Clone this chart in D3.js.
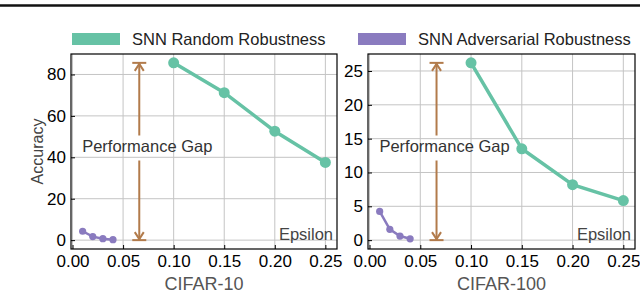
<!DOCTYPE html>
<html>
<head>
<meta charset="utf-8">
<script src="https://cdn.jsdelivr.net/npm/d3@7"></script>
<style>
  body { margin: 0; background: #fff; }
  text { font-family: 'Liberation Sans', Arial, sans-serif; }
</style>
</head>
<body>
<svg id="chart" width="640" height="294"></svg>
<script>
// values
const epsRandom = [0.10, 0.15, 0.20, 0.25]
const epsAdv = [0.01, 0.02, 0.03, 0.04]
const cifar10Random = [85.6, 71.2, 52.6, 37.5]
const cifar10Adv = [4.3, 1.7, 0.7, 0.2]
const cifar100Random = [26.2, 13.5, 8.2, 5.85]
const cifar100Adv = [4.25, 1.6, 0.6, 0.2]
const xTicks = [0, 0.05, 0.10, 0.15, 0.20, 0.25]
const cifar10YTicks = [0, 20, 40, 60, 80]
const cifar100YTicks = [0, 5, 10, 15, 20, 25]
const gapEps = 0.066
const seriesNames = ['SNN Random Robustness', 'SNN Adversarial Robustness']
const panelNames = ['CIFAR-10', 'CIFAR-100']

const green = '#66c2a5'
const purple = '#8a7bbf'
const brown = '#b27b4b'

const svg = d3.select('#chart')

// cut-off rule from the figure above
svg.append('line')
  .attr('x1', 0).attr('x2', 640)
  .attr('y1', 5.5).attr('y2', 5.5)
  .attr('stroke', '#111')
  .attr('stroke-width', 2.5)

// legend
const legend = [
  { name: seriesNames[0], color: green, x: 72 },
  { name: seriesNames[1], color: purple, x: 358 }
]
legend.forEach(function (d) {
  svg.append('rect')
    .attr('x', d.x).attr('y', 33)
    .attr('width', 48).attr('height', 12)
    .attr('fill', d.color)
  svg.append('text')
    .attr('x', d.x + 60).attr('y', 45)
    .attr('font-size', 16.5)
    .attr('fill', '#222')
    .text(d.name)
})

function drawPanel (opts) {
  const left = opts.left
  const right = opts.right
  const top = 54
  const bottom = 249
  const yMax = d3.max(opts.random)
  const pad = yMax * 0.05

  const x = d3.scaleLinear().domain([-0.0015, 0.2615]).range([left, right])
  const y = d3.scaleLinear().domain([-pad, yMax + pad]).range([bottom, top])

  const g = svg.append('g')

  // grid
  g.append('g').selectAll('line')
    .data(xTicks)
    .enter().append('line')
    .attr('x1', d => x(d)).attr('x2', d => x(d))
    .attr('y1', top).attr('y2', bottom)
    .attr('stroke', '#c4c4c4')
  g.append('g').selectAll('line')
    .data(opts.yTicks)
    .enter().append('line')
    .attr('x1', left).attr('x2', right)
    .attr('y1', d => y(d)).attr('y2', d => y(d))
    .attr('stroke', '#c4c4c4')

  // axes, ticks pointing in
  const xAxis = g.append('g')
    .attr('transform', 'translate(0,' + bottom + ')')
    .call(d3.axisBottom(x).tickValues(xTicks).tickFormat(d3.format('.2f')).tickSize(-4).tickPadding(6))
  const yAxis = g.append('g')
    .attr('transform', 'translate(' + left + ',0)')
    .call(d3.axisLeft(y).tickValues(opts.yTicks).tickFormat(d3.format('d')).tickSize(-4).tickPadding(5))
  ;[xAxis, yAxis].forEach(function (a) {
    a.select('.domain').remove()
    a.selectAll('.tick line').attr('stroke', '#000')
    a.selectAll('.tick text')
      .attr('font-size', 17)
      .attr('font-family', "'Liberation Sans', Arial, sans-serif")
      .attr('fill', '#000')
  })

  // frame
  g.append('rect')
    .attr('x', left).attr('y', top)
    .attr('width', right - left).attr('height', bottom - top)
    .attr('fill', 'none')
    .attr('stroke', '#000')
    .attr('stroke-width', 1.2)

  // performance gap arrow
  const ax = x(gapEps)
  const aTop = y(yMax)
  const aBot = y(0)
  const mid = (aTop + aBot) / 2
  const arrow = g.append('g')
    .attr('stroke', brown)
    .attr('stroke-width', 2)
    .attr('fill', 'none')
  arrow.append('line')
    .attr('x1', ax).attr('x2', ax)
    .attr('y1', aTop).attr('y2', mid - 16)
  arrow.append('line')
    .attr('x1', ax).attr('x2', ax)
    .attr('y1', mid + 9).attr('y2', aBot)
  arrow.append('line')
    .attr('x1', ax - 7).attr('x2', ax + 7)
    .attr('y1', aTop).attr('y2', aTop)
  arrow.append('line')
    .attr('x1', ax - 7).attr('x2', ax + 7)
    .attr('y1', aBot).attr('y2', aBot)
  arrow.append('path')
    .attr('d', 'M' + (ax - 4.5) + ',' + (aTop + 8) + 'L' + ax + ',' + (aTop + 1) + 'L' + (ax + 4.5) + ',' + (aTop + 8))
  arrow.append('path')
    .attr('d', 'M' + (ax - 4.5) + ',' + (aBot - 8) + 'L' + ax + ',' + (aBot - 1) + 'L' + (ax + 4.5) + ',' + (aBot - 8))

  g.append('text')
    .attr('x', ax + 8).attr('y', mid)
    .attr('text-anchor', 'middle')
    .attr('font-size', 16.5)
    .attr('fill', '#333')
    .text('Performance Gap')

  // series
  const line = d3.line().x(d => x(d[0])).y(d => y(d[1]))
  const series = [
    { xs: epsRandom, ys: opts.random, color: green, w: 3.5, r: 5.5 },
    { xs: epsAdv, ys: opts.adv, color: purple, w: 2.5, r: 3.6 }
  ]
  series.forEach(function (s) {
    const pts = s.xs.map((e, i) => [e, s.ys[i]])
    g.append('path')
      .datum(pts)
      .attr('d', line)
      .attr('fill', 'none')
      .attr('stroke', s.color)
      .attr('stroke-width', s.w)
    g.append('g').selectAll('circle')
      .data(pts)
      .enter().append('circle')
      .attr('cx', d => x(d[0]))
      .attr('cy', d => y(d[1]))
      .attr('r', s.r)
      .attr('fill', s.color)
  })

  g.append('text')
    .attr('x', right - 4).attr('y', bottom - 9)
    .attr('text-anchor', 'end')
    .attr('font-size', 16.5)
    .attr('fill', '#444')
    .text('Epsilon')

  g.append('text')
    .attr('x', (left + right) / 2).attr('y', 290)
    .attr('text-anchor', 'middle')
    .attr('font-size', 18)
    .attr('fill', '#555')
    .text(opts.name)

  if (opts.yLabel) {
    g.append('text')
      .attr('transform', 'translate(43,' + (top + bottom) / 2 + ') rotate(-90)')
      .attr('text-anchor', 'middle')
      .attr('font-size', 16)
      .attr('fill', '#444')
      .text(opts.yLabel)
  }
}

drawPanel({ left: 71, right: 337, random: cifar10Random, adv: cifar10Adv, yTicks: cifar10YTicks, name: panelNames[0], yLabel: 'Accuracy' })
drawPanel({ left: 368, right: 635, random: cifar100Random, adv: cifar100Adv, yTicks: cifar100YTicks, name: panelNames[1] })
</script>
</body>
</html>
